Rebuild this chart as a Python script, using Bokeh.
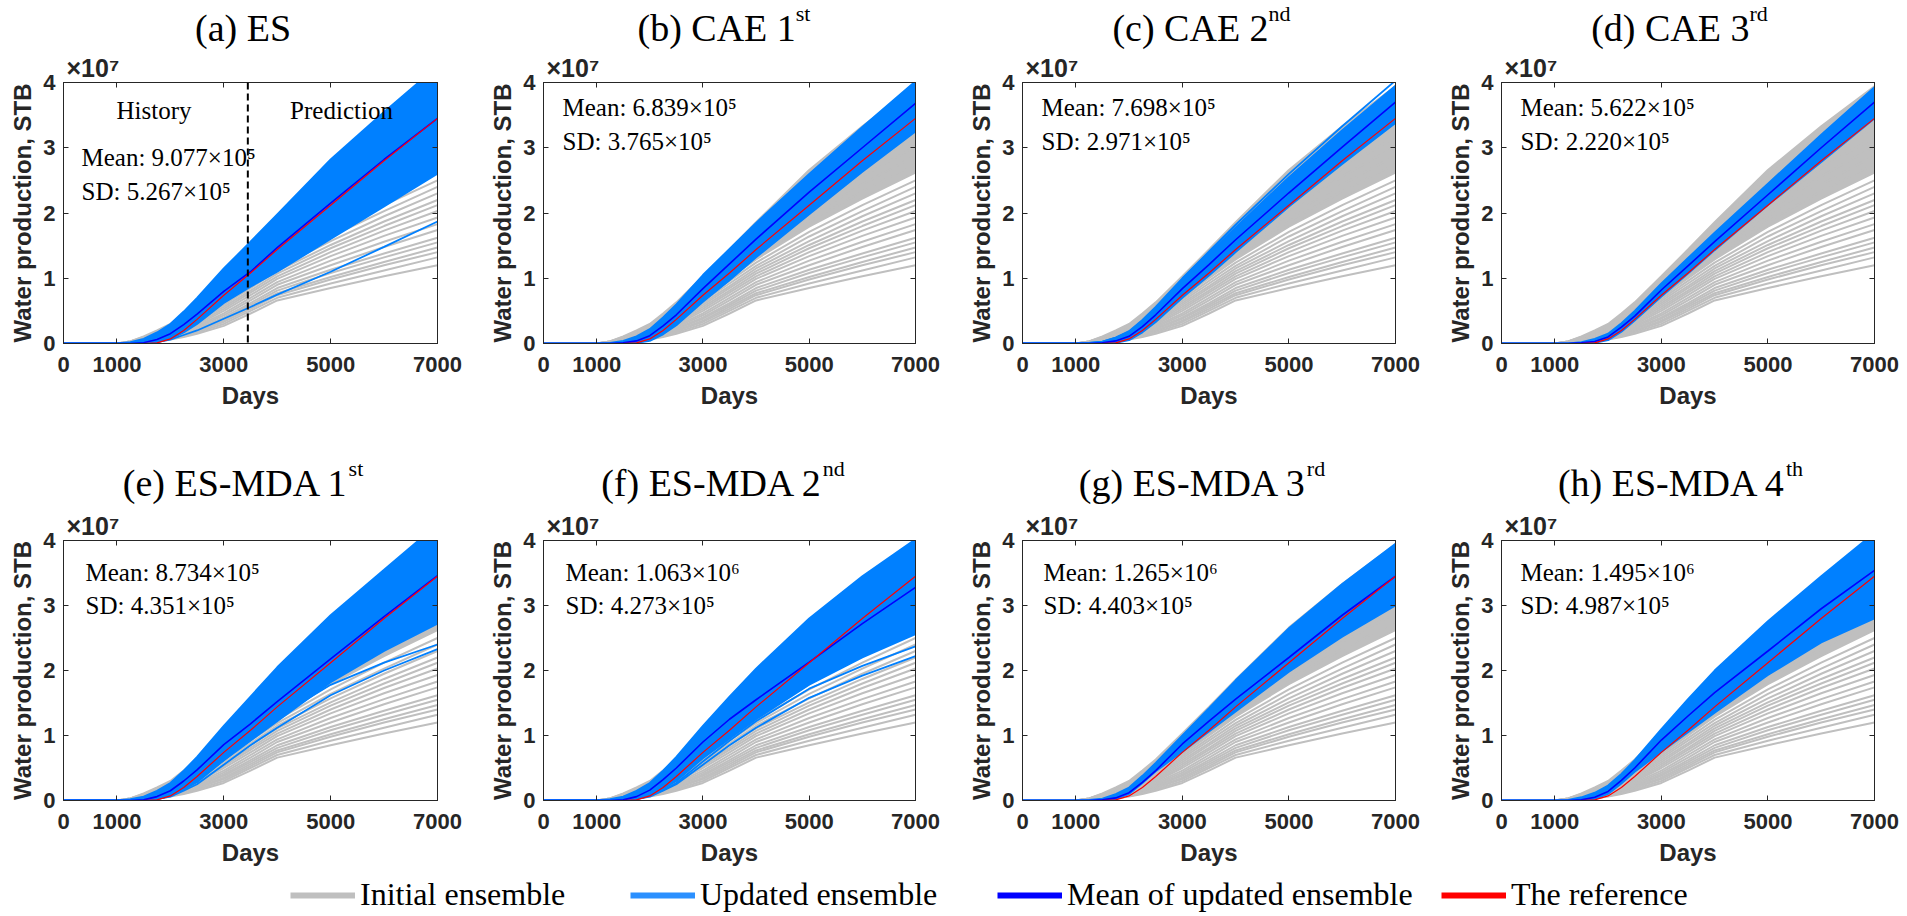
from bokeh.plotting import figure
from bokeh.models import (Range1d, FixedTicker, LinearAxis, Label, Span, Legend,
                          LegendItem, CustomJSTickFormatter)
from bokeh.layouts import column, row
from bokeh.embed import file_html
from bokeh.resources import INLINE

# ---------------- data (water production in units of 1e7 STB) ----------------
DAYS = [0, 1000, 1250, 1500, 1750, 2000, 2250, 2500, 3000, 3500, 4000, 5000, 6000, 7000]
X_TICKS = [0, 1000, 3000, 5000, 7000]
Y_TICKS = [0, 1, 2, 3, 4]
HISTORY_END = 3450

REFERENCE = [0, 0, 0, 0, 0.01, 0.07, 0.20, 0.37, 0.74, 1.08, 1.44, 2.12, 2.80, 3.45]

INITIAL_ENSEMBLE = [
    [0, 0, 0, 0.01, 0.03, 0.06, 0.10, 0.15, 0.27, 0.46, 0.66, 0.85, 1.03, 1.20],
    [0, 0, 0, 0.01, 0.03, 0.07, 0.11, 0.17, 0.30, 0.50, 0.70, 0.92, 1.12, 1.32],
    [0, 0, 0, 0.02, 0.04, 0.08, 0.13, 0.19, 0.33, 0.53, 0.74, 0.98, 1.20, 1.40],
    [0, 0, 0, 0.02, 0.04, 0.08, 0.14, 0.20, 0.35, 0.56, 0.77, 1.02, 1.25, 1.47],
    [0, 0, 0, 0.02, 0.05, 0.09, 0.15, 0.22, 0.38, 0.59, 0.81, 1.08, 1.32, 1.55],
    [0, 0, 0, 0.02, 0.05, 0.10, 0.16, 0.23, 0.40, 0.62, 0.85, 1.13, 1.38, 1.62],
    [0, 0, 0.01, 0.03, 0.06, 0.11, 0.18, 0.25, 0.43, 0.66, 0.90, 1.20, 1.48, 1.74],
    [0, 0, 0.01, 0.03, 0.07, 0.12, 0.19, 0.27, 0.46, 0.70, 0.94, 1.27, 1.56, 1.83],
    [0, 0, 0.01, 0.03, 0.07, 0.13, 0.21, 0.29, 0.50, 0.74, 0.99, 1.34, 1.65, 1.93],
    [0, 0, 0.01, 0.04, 0.08, 0.14, 0.22, 0.31, 0.53, 0.78, 1.03, 1.40, 1.73, 2.03],
    [0, 0, 0.01, 0.04, 0.09, 0.15, 0.24, 0.33, 0.56, 0.81, 1.07, 1.46, 1.80, 2.12],
    [0, 0, 0.01, 0.04, 0.09, 0.16, 0.25, 0.35, 0.59, 0.85, 1.11, 1.51, 1.87, 2.20],
    [0, 0, 0.01, 0.05, 0.10, 0.17, 0.27, 0.37, 0.62, 0.88, 1.15, 1.57, 1.95, 2.30],
    [0, 0, 0.01, 0.05, 0.11, 0.18, 0.28, 0.39, 0.65, 0.92, 1.19, 1.64, 2.03, 2.40],
    [0, 0, 0.01, 0.05, 0.11, 0.19, 0.30, 0.41, 0.68, 0.96, 1.24, 1.71, 2.12, 2.50],
    [0, 0, 0.01, 0.06, 0.12, 0.20, 0.31, 0.43, 0.71, 1.00, 1.29, 1.79, 2.22, 2.62],
    [0, 0, 0.02, 0.06, 0.13, 0.21, 0.33, 0.45, 0.74, 1.04, 1.34, 1.87, 2.33, 2.75],
    [0, 0, 0.02, 0.07, 0.14, 0.22, 0.34, 0.47, 0.77, 1.08, 1.39, 1.95, 2.44, 2.88],
    [0, 0, 0.02, 0.07, 0.14, 0.23, 0.36, 0.49, 0.80, 1.12, 1.45, 2.04, 2.56, 3.02],
    [0, 0, 0.02, 0.08, 0.15, 0.24, 0.37, 0.51, 0.83, 1.17, 1.51, 2.13, 2.68, 3.17],
    [0, 0, 0.02, 0.08, 0.16, 0.25, 0.39, 0.53, 0.87, 1.22, 1.58, 2.23, 2.81, 3.32],
    [0, 0, 0.03, 0.09, 0.17, 0.26, 0.40, 0.55, 0.90, 1.27, 1.65, 2.34, 2.95, 3.48],
    [0, 0, 0.03, 0.09, 0.17, 0.27, 0.42, 0.57, 0.94, 1.32, 1.72, 2.45, 3.09, 3.64],
    [0, 0, 0.03, 0.10, 0.18, 0.28, 0.44, 0.60, 0.98, 1.38, 1.79, 2.56, 3.23, 3.80],
    [0, 0, 0.03, 0.11, 0.20, 0.30, 0.46, 0.63, 1.03, 1.44, 1.86, 2.66, 3.33, 3.94],
]

# updated ensembles: dense band (upper / lower), separate members, ensemble mean
ES_UPPER = [0, 0, 0.02, 0.07, 0.17, 0.30, 0.49, 0.70, 1.15, 1.56, 1.98, 2.82, 3.55, 4.25]
ES_LOWER = [0, 0, 0, 0, 0.02, 0.07, 0.17, 0.30, 0.62, 0.87, 1.10, 1.60, 2.10, 2.60]
ES_MEMBERS = [[0, 0, 0, 0, 0.02, 0.06, 0.13, 0.20, 0.38, 0.56, 0.75, 1.10, 1.48, 1.87]]
ES_MEAN = [0, 0, 0, 0.01, 0.06, 0.15, 0.29, 0.45, 0.80, 1.10, 1.47, 2.15, 2.82, 3.45]

CAE1_UPPER = [0, 0, 0.01, 0.04, 0.11, 0.22, 0.40, 0.60, 1.05, 1.45, 1.85, 2.60, 3.32, 4.02]
CAE1_LOWER = [0, 0, 0, 0, 0.01, 0.04, 0.14, 0.28, 0.64, 0.97, 1.32, 1.98, 2.63, 3.25]
CAE1_MEMBERS = []
CAE1_MEAN = [0, 0, 0, 0.01, 0.04, 0.12, 0.27, 0.44, 0.84, 1.22, 1.60, 2.32, 3.00, 3.68]

CAE2_UPPER = [0, 0, 0.01, 0.03, 0.09, 0.18, 0.35, 0.55, 0.98, 1.38, 1.78, 2.55, 3.27, 3.95]
CAE2_LOWER = [0, 0, 0, 0, 0.01, 0.05, 0.17, 0.33, 0.70, 1.04, 1.40, 2.10, 2.75, 3.38]
CAE2_MEMBERS = [[0, 0, 0.01, 0.03, 0.09, 0.19, 0.36, 0.56, 1.00, 1.41, 1.82, 2.60, 3.33, 4.03]]
CAE2_MEAN = [0, 0, 0, 0.01, 0.04, 0.11, 0.26, 0.44, 0.84, 1.21, 1.59, 2.31, 3.01, 3.70]

CAE3_UPPER = [0, 0, 0, 0.02, 0.07, 0.15, 0.31, 0.50, 0.92, 1.31, 1.70, 2.45, 3.20, 3.93]
CAE3_LOWER = [0, 0, 0, 0, 0.01, 0.05, 0.18, 0.35, 0.72, 1.07, 1.43, 2.12, 2.78, 3.45]
CAE3_MEMBERS = []
CAE3_MEAN = [0, 0, 0, 0.01, 0.03, 0.10, 0.25, 0.42, 0.82, 1.19, 1.56, 2.28, 3.00, 3.70]

MDA1_UPPER = [0, 0, 0.02, 0.06, 0.15, 0.27, 0.46, 0.67, 1.15, 1.60, 2.05, 2.85, 3.55, 4.25]
MDA1_LOWER = [0, 0, 0, 0, 0.02, 0.08, 0.18, 0.30, 0.62, 0.92, 1.22, 1.82, 2.30, 2.72]
MDA1_MEMBERS = [[0, 0, 0, 0, 0.02, 0.07, 0.17, 0.28, 0.62, 0.95, 1.28, 1.78, 2.12, 2.40],
                [0, 0, 0, 0, 0.02, 0.06, 0.15, 0.25, 0.55, 0.85, 1.12, 1.62, 2.00, 2.33]]
MDA1_MEAN = [0, 0, 0, 0.01, 0.06, 0.15, 0.30, 0.47, 0.86, 1.18, 1.52, 2.18, 2.83, 3.46]

MDA2_UPPER = [0, 0, 0.02, 0.06, 0.15, 0.27, 0.46, 0.67, 1.15, 1.60, 2.03, 2.80, 3.45, 4.02]
MDA2_LOWER = [0, 0, 0, 0, 0.02, 0.08, 0.18, 0.30, 0.65, 0.95, 1.25, 1.78, 2.20, 2.56]
MDA2_MEMBERS = [[0, 0, 0, 0, 0.02, 0.07, 0.16, 0.27, 0.60, 0.92, 1.22, 1.72, 2.07, 2.37],
                [0, 0, 0, 0, 0.02, 0.06, 0.15, 0.25, 0.55, 0.85, 1.12, 1.58, 1.92, 2.22]]
MDA2_MEAN = [0, 0, 0, 0.01, 0.06, 0.16, 0.32, 0.50, 0.90, 1.25, 1.55, 2.13, 2.72, 3.28]

MDA3_UPPER = [0, 0, 0.01, 0.03, 0.10, 0.20, 0.38, 0.58, 1.00, 1.42, 1.85, 2.65, 3.33, 3.95]
MDA3_LOWER = [0, 0, 0, 0, 0.02, 0.10, 0.27, 0.45, 0.75, 1.06, 1.37, 1.98, 2.52, 3.00]
MDA3_MEMBERS = []
MDA3_MEAN = [0, 0, 0, 0.01, 0.04, 0.12, 0.28, 0.46, 0.87, 1.22, 1.56, 2.20, 2.85, 3.45]

MDA4_UPPER = [0, 0, 0.01, 0.05, 0.12, 0.23, 0.41, 0.62, 1.10, 1.56, 2.00, 2.76, 3.45, 4.12]
MDA4_LOWER = [0, 0, 0, 0, 0.02, 0.10, 0.26, 0.44, 0.75, 1.05, 1.35, 1.93, 2.43, 2.80]
MDA4_MEMBERS = []
MDA4_MEAN = [0, 0, 0, 0.01, 0.05, 0.14, 0.31, 0.50, 0.93, 1.30, 1.66, 2.30, 2.95, 3.54]

TITLES = ["(a) ES", "(b) CAE 1", "(c) CAE 2", "(d) CAE 3",
          "(e) ES-MDA 1", "(f) ES-MDA 2", "(g) ES-MDA 3", "(h) ES-MDA 4"]
TITLE_SUPS = ["", "st", "nd", "rd", "st", "nd", "rd", "th"]
EXPONENT = "×10⁷"
MEAN_TEXT = ["Mean: 9.077×10⁵", "Mean: 6.839×10⁵", "Mean: 7.698×10⁵", "Mean: 5.622×10⁵",
             "Mean: 8.734×10⁵", "Mean: 1.063×10⁶", "Mean: 1.265×10⁶", "Mean: 1.495×10⁶"]
SD_TEXT = ["SD: 5.267×10⁵", "SD: 3.765×10⁵", "SD: 2.971×10⁵", "SD: 2.220×10⁵",
           "SD: 4.351×10⁵", "SD: 4.273×10⁵", "SD: 4.403×10⁵", "SD: 4.987×10⁵"]
LEGEND_LABELS = ["Initial ensemble", "Updated ensemble", "Mean of updated ensemble", "The reference"]

UPPERS = [ES_UPPER, CAE1_UPPER, CAE2_UPPER, CAE3_UPPER, MDA1_UPPER, MDA2_UPPER, MDA3_UPPER, MDA4_UPPER]
LOWERS = [ES_LOWER, CAE1_LOWER, CAE2_LOWER, CAE3_LOWER, MDA1_LOWER, MDA2_LOWER, MDA3_LOWER, MDA4_LOWER]
MEMBERS = [ES_MEMBERS, CAE1_MEMBERS, CAE2_MEMBERS, CAE3_MEMBERS,
           MDA1_MEMBERS, MDA2_MEMBERS, MDA3_MEMBERS, MDA4_MEMBERS]
MEANS = [ES_MEAN, CAE1_MEAN, CAE2_MEAN, CAE3_MEAN, MDA1_MEAN, MDA2_MEAN, MDA3_MEAN, MDA4_MEAN]

# ---------------- styling / layout ----------------
GRAY = "#bfbfbf"
BLUE = "#0080ff"
BLUE_LEG = "#2b90ff"
MEANC = "#0000ff"
RED = "#ff0000"
AX = "#262626"
SERIF = "Liberation Serif"
SANS = "Liberation Sans"

FW, FH = 374, 264
COL_L = [63, 55, 56, 56]
COL_R = [49, 50, 49, 31]
STRIP_H = [51, 66]
PLOT_T = 28
ROW_B = [100, 67]
TITLE_Y = [24, 27]
TITLE_X = [179.5, 252.3, 246.1, 248.0, 285.1, 279.3, 284.3, 284.4]
STAT_X = [18, 19, 19, 19, 22, 22, 21, 19]
STAT_Y = [(186, 152), (236, 202), (236, 202), (236, 202),
          (228, 195), (228, 195), (228, 195), (228, 195)]


def style_axis(ax):
    ax.axis_line_color = AX
    ax.major_tick_line_color = AX
    ax.major_tick_in = 5
    ax.major_tick_out = 0
    ax.minor_tick_line_color = None
    ax.major_label_text_font = SANS
    ax.major_label_text_font_style = "bold"
    ax.major_label_text_font_size = "22px"
    ax.major_label_text_color = AX
    ax.axis_label_text_font = SANS
    ax.axis_label_text_font_style = "bold"
    ax.axis_label_text_font_size = "24px"
    ax.axis_label_text_color = AX


def lbl(p, x, y, text, font=SERIF, size="25px", align="left", style="normal", color="black"):
    p.add_layout(Label(x=x, y=y, x_units="screen", y_units="screen", text=text,
                       text_font=font, text_font_size=size, text_align=align,
                       text_baseline="alphabetic", text_font_style=style, text_color=color))


def make_strip(i):
    r, c = divmod(i, 4)
    s = figure(width=COL_L[c] + FW + COL_R[c], height=STRIP_H[r], min_border=0,
               x_axis_type=None, y_axis_type=None, x_range=Range1d(0, 1), y_range=Range1d(0, 1),
               output_backend="svg", toolbar_location=None)
    s.grid.visible = False
    s.outline_line_color = None
    if TITLE_SUPS[i]:
        lbl(s, TITLE_X[i], TITLE_Y[r], TITLES[i], size="38px", align="right")
        lbl(s, TITLE_X[i], TITLE_Y[r] + 14, TITLE_SUPS[i], size="22px", align="left")
    else:
        lbl(s, TITLE_X[i], TITLE_Y[r], TITLES[i], size="38px", align="center")
    return s


def make_panel(i):
    r, c = divmod(i, 4)
    p = figure(width=COL_L[c] + FW + COL_R[c], height=PLOT_T + FH + ROW_B[r],
               min_border_left=COL_L[c], min_border_right=COL_R[c],
               min_border_top=PLOT_T, min_border_bottom=ROW_B[r],
               x_range=Range1d(0, 7000), y_range=Range1d(0, 4),
               output_backend="svg", toolbar_location=None, title=EXPONENT)
    p.grid.visible = False
    p.outline_line_color = AX
    p.title.align = "left"
    p.title.offset = 3
    p.title.standoff = 1
    p.title.text_font = SANS
    p.title.text_font_size = "25px"
    p.title.text_font_style = "bold"
    p.title.text_color = AX
    p.title.vertical_align = "bottom"

    xa = p.xaxis[0]
    ya = p.yaxis[0]
    xa.ticker = FixedTicker(ticks=X_TICKS)
    ya.ticker = FixedTicker(ticks=Y_TICKS)
    style_axis(xa)
    style_axis(ya)
    xa.axis_label = "Days"
    ya.axis_label = "Water production, STB"
    xa.major_label_standoff = 13
    xa.axis_label_standoff = 7
    ya.major_label_standoff = 8
    ya.axis_label_standoff = 4

    blank = CustomJSTickFormatter(code="return ''")
    top = LinearAxis(ticker=FixedTicker(ticks=X_TICKS), formatter=blank)
    right = LinearAxis(ticker=FixedTicker(ticks=Y_TICKS), formatter=blank)
    for ax in (top, right):
        style_axis(ax)
        ax.major_label_standoff = 0
        ax.major_label_text_font_size = "0px"
    p.add_layout(top, "above")
    p.add_layout(right, "right")

    # initial ensemble
    p.varea(x=DAYS, y1=INITIAL_ENSEMBLE[15], y2=INITIAL_ENSEMBLE[-1], fill_color=GRAY)
    p.multi_line(xs=[DAYS] * len(INITIAL_ENSEMBLE), ys=INITIAL_ENSEMBLE,
                 line_color=GRAY, line_width=2)
    # updated ensemble
    p.varea(x=DAYS, y1=LOWERS[i], y2=UPPERS[i], fill_color=BLUE)
    blue_lines = [UPPERS[i], LOWERS[i]] + MEMBERS[i]
    p.multi_line(xs=[DAYS] * len(blue_lines), ys=blue_lines, line_color=BLUE, line_width=1.8)
    p.line(DAYS, MEANS[i], line_color=MEANC, line_width=1.6)
    p.line(DAYS, REFERENCE, line_color=RED, line_width=1.2)

    if i == 0:
        p.add_layout(Span(location=HISTORY_END, dimension="height", line_color="black",
                          line_width=2, line_dash="7 4"))
        lbl(p, 90.5, 233, "History", align="center")
        lbl(p, 278, 233, "Prediction", align="center")

    lbl(p, STAT_X[i], STAT_Y[i][0], MEAN_TEXT[i])
    lbl(p, STAT_X[i], STAT_Y[i][1], SD_TEXT[i])
    return p


blocks = [column(make_strip(i), make_panel(i)) for i in range(8)]

# legend strip
leg = figure(width=1905, height=45, min_border=0, x_axis_type=None, y_axis_type=None,
             x_range=Range1d(0, 1), y_range=Range1d(0, 1),
             output_backend="svg", toolbar_location=None)
leg.grid.visible = False
leg.outline_line_color = None
LEG_COLORS = [GRAY, BLUE_LEG, MEANC, RED]
LEG_X = [290, 630, 997, 1441]
for text, colr, lx in zip(LEGEND_LABELS, LEG_COLORS, LEG_X):
    rr = leg.line(x=[5, 6], y=[5, 6], line_color=colr, line_width=6)
    lg = Legend(items=[LegendItem(label=text, renderers=[rr])], location=(lx, 0),
                orientation="horizontal", glyph_width=65, glyph_height=30, label_standoff=5,
                padding=0, margin=0, border_line_color=None, background_fill_alpha=0,
                label_text_font=SERIF, label_text_font_size="32px", label_text_color="black")
    leg.add_layout(lg)

layout = column(row(*blocks[:4]), row(*blocks[4:]), leg)
open("out.html", "w").write(file_html(layout, INLINE))
